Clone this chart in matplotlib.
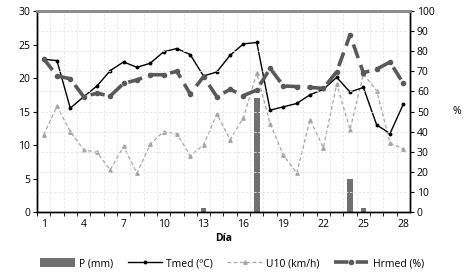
import matplotlib.pyplot as plt
from matplotlib.ticker import MultipleLocator

plt.rcParams['font.family'] = ['Open Sans', 'DejaVu Sans']
plt.rcParams['font.size'] = 7.5

days = list(range(1, 29))
xticks = [1, 4, 7, 10, 13, 16, 19, 22, 25, 28]

p_mm = [0, 0, 0, 0, 0, 0, 0, 0, 0, 0, 0, 0, 0.6, 0, 0, 0, 17.0, 0, 0, 0,
        0, 0, 0, 5.0, 0.6, 0, 0, 0]
tmed = [22.8, 22.6, 15.5, 17.2, 18.8, 21.1, 22.4, 21.6, 22.2, 23.9, 24.4, 23.5,
        20.3, 20.9, 23.4, 25.1, 25.3, 15.2, 15.7, 16.2, 17.5, 18.3, 20.1, 17.9,
        18.6, 13.0, 11.7, 16.1]
u10 = [11.5, 15.8, 12.0, 9.3, 8.9, 6.3, 9.8, 5.8, 10.1, 12.0, 11.7, 8.4,
       10.0, 14.6, 10.8, 14.1, 20.7, 13.2, 8.5, 5.8, 13.8, 9.6, 19.1, 12.3,
       20.6, 18.1, 10.3, 9.4]
hrmed = [76.3, 67.7, 66.3, 57.4, 59.1, 57.7, 64.0, 65.7, 68.3, 68.3, 70.0, 58.7,
         67.3, 57.4, 61.0, 57.9, 60.7, 71.5, 62.7, 62.4, 62.0, 61.5, 69.8, 88.1,
         69.3, 71.1, 74.6, 64.0]

fig = plt.figure(figsize=(4.64, 2.73), dpi=100)
ax = fig.add_axes([0.0797, 0.2234, 0.8039, 0.7363])
ax2 = ax.twinx()

# grid follows the right axis ticks
ax2.set_ylim(0, 100)
ax2.yaxis.set_major_locator(MultipleLocator(10))
ax2.grid(axis='y', color='#e4e4e4', linestyle=(0, (3, 2)), linewidth=0.6)
ax.set_axisbelow(True)
ax.set_xticks([d + 0.5 for d in range(0, 28)], minor=True)
ax.grid(axis='x', which='minor', color='#e4e4e4', linestyle=(0, (3, 2)), linewidth=0.6)

bars = ax.bar(days, p_mm, width=0.43, color='#707070', zorder=2)
l_t, = ax.plot(days, tmed, color='black', linewidth=1.0, marker='o',
               markersize=1.8, zorder=4)
l_u, = ax.plot(days, u10, color='#a6a6a6', linewidth=0.9, linestyle=(0, (3, 2)),
               marker='^', markersize=2.5, zorder=3)
l_h, = ax2.plot(days, hrmed, color='#595959', linewidth=2.6,
                linestyle=(0, (4, 2)), marker='o', markersize=3, zorder=3)

ax.set_xlim(0.5, 28.5)
ax.set_ylim(0, 30)
ax.yaxis.set_major_locator(MultipleLocator(5))
ax.set_xticks(xticks)
ax.tick_params(axis='x', which='major', length=0, pad=5)
ax.tick_params(axis='x', which='minor', length=3, direction='out')
ax.tick_params(axis='y', length=3, direction='out', pad=2)
ax2.tick_params(axis='y', length=3, direction='out', pad=2)

for a in (ax, ax2):
    a.spines['top'].set_color('#8c8c8c')
    a.spines['top'].set_linewidth(2)
    for s in ('left', 'right', 'bottom'):
        a.spines[s].set_linewidth(1.0)

ax.set_xlabel('Día', fontweight='bold', labelpad=2)
ax2.set_ylabel('%', rotation=0, labelpad=16, va='center')

ax.legend([bars, l_t, l_u, l_h],
          ['P (mm)', 'Tmed (ºC)', 'U10 (km/h)', 'Hrmed (%)'],
          loc='center', bbox_to_anchor=(0.5, 0.035), bbox_transform=fig.transFigure,
          ncol=4, frameon=False, handlelength=3.3, handleheight=1.0,
          columnspacing=1.4, handletextpad=0.4, borderaxespad=0)

fig.savefig('out.png', dpi=100)
